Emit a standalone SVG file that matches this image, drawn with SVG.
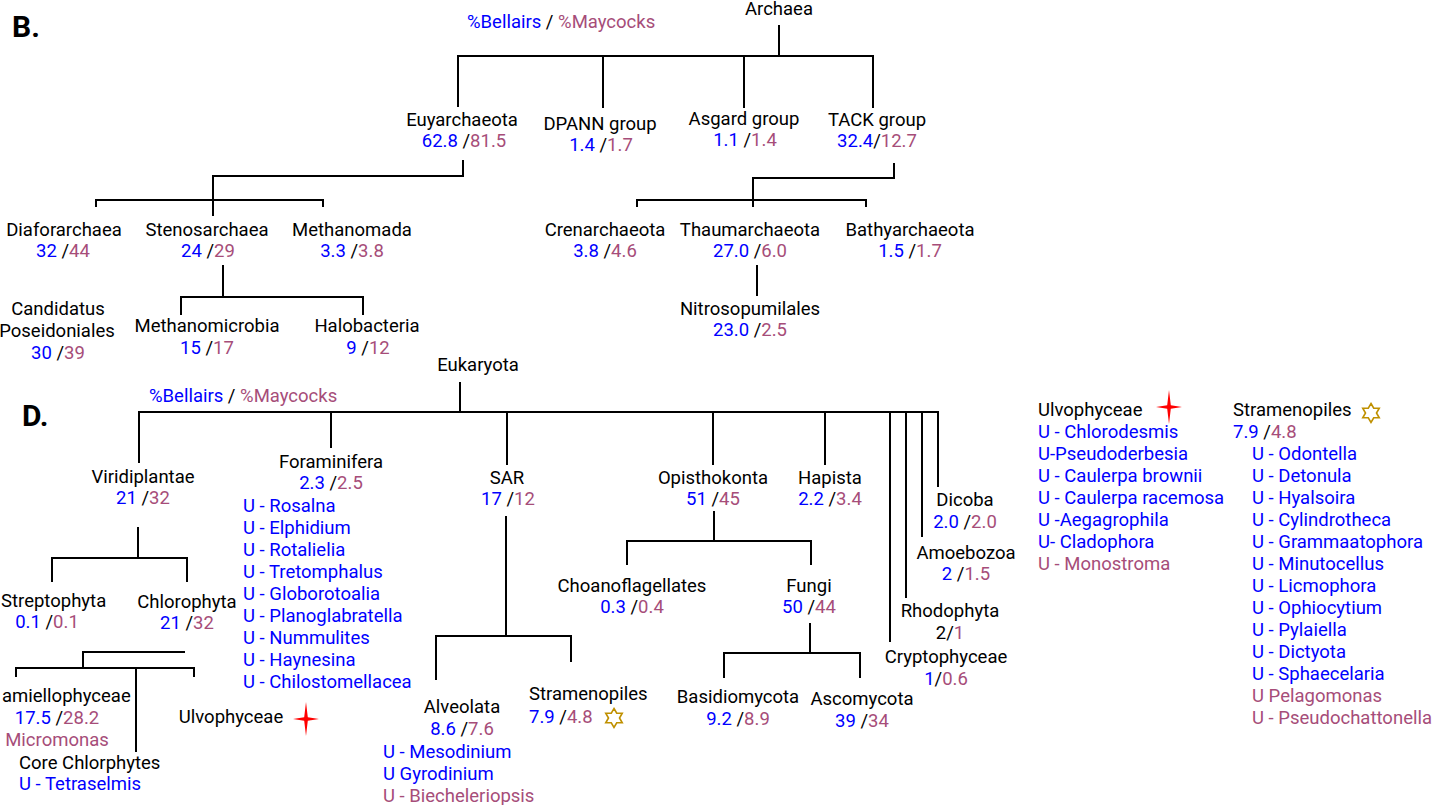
<svg xmlns="http://www.w3.org/2000/svg" xmlns:xlink="http://www.w3.org/1999/xlink" width="1434" height="805" viewBox="0 0 1434 805">
<style>
text{font-family:Roboto,"Liberation Sans",sans-serif;font-size:18.5px;fill:#000}
.c{text-anchor:middle}
.b{fill:#0000ff}
.m{fill:#a64d79}
.h{font-weight:bold;font-size:30px}
.ln{stroke:#000;stroke-width:2;fill:none}
.hex{fill:#fff;stroke:#bf9000;stroke-width:1.6;stroke-linejoin:miter}
.sp{fill:#ff0000}
</style>
<defs>
<path id="hexg" class="hex" d="M0,-9.5 L2.74,-4.75 L8.23,-4.75 L5.48,0 L8.23,4.75 L2.74,4.75 L0,9.5 L-2.74,4.75 L-8.23,4.75 L-5.48,0 L-8.23,-4.75 L-2.74,-4.75 Z"/>
<path id="spark" class="sp" d="M-13,0 L-1.8,-1.8 L0,-17 L1.8,-1.8 L13,0 L1.8,1.8 L0,17 L-1.8,1.8 Z"/>
</defs>
<rect width="1434" height="805" fill="#fff"/>

<g id="connectors">
<path class="ln" d="M779,25V56 M458,107V56H873V108 M603,56V108 M744,56V108"/>
<path class="ln" d="M463,160V176H213V216 M96,207V200H323V207"/>
<path class="ln" d="M223,265V297 M181,315V297H363V315"/>
<path class="ln" d="M894,163V178H753V207 M637,207V200H866V207"/>
<path class="ln" d="M757,265V296"/>
<path class="ln" d="M460,382V412 M139,463V412H938V487 M331,412V448 M507,412V465 M713,412V465 M825,412V465 M890,412V642 M906,412V598 M922,412V537"/>
<path class="ln" d="M138,527V558 M52,582V558H187V582"/>
<path class="ln" d="M185,652H83V668 M16,677V668H194V677 M136,668V752"/>
<path class="ln" d="M506,516V636 M436,680V636H571V662"/>
<path class="ln" d="M714,511V541 M627,565V541H811V565"/>
<path class="ln" d="M810,623V653 M724,678V653H860V678"/>
</g>

<g id="labels">
<text class="h" x="12" y="37">B.</text>
<text x="467" y="28"><tspan class="b">%Bellairs</tspan> / <tspan class="m">%Maycocks</tspan></text>
<text class="h" x="22" y="426">D.</text>
<text x="149" y="402"><tspan class="b">%Bellairs</tspan> / <tspan class="m">%Maycocks</tspan></text>
</g>

<g id="n-archaea"><text class="c" x="779" y="15">Archaea</text></g>
<g id="n-euyarchaeota"><text class="c" x="462" y="126">Euyarchaeota</text><text class="c" x="464" y="147"><tspan class="b">62.8</tspan> /<tspan class="m">81.5</tspan></text></g>
<g id="n-dpann"><text class="c" x="600" y="130">DPANN group</text><text class="c" x="601" y="151"><tspan class="b">1.4</tspan> /<tspan class="m">1.7</tspan></text></g>
<g id="n-asgard"><text class="c" x="744" y="125">Asgard group</text><text class="c" x="745" y="146"><tspan class="b">1.1</tspan> /<tspan class="m">1.4</tspan></text></g>
<g id="n-tack"><text class="c" x="877" y="126">TACK group</text><text class="c" x="877" y="147"><tspan class="b">32.4</tspan>/<tspan class="m">12.7</tspan></text></g>
<g id="n-diaforarchaea"><text class="c" x="64" y="236">Diaforarchaea</text><text class="c" x="63" y="257"><tspan class="b">32</tspan> /<tspan class="m">44</tspan></text></g>
<g id="n-stenosarchaea"><text class="c" x="207" y="236">Stenosarchaea</text><text class="c" x="208" y="257"><tspan class="b">24</tspan> /<tspan class="m">29</tspan></text></g>
<g id="n-methanomada"><text class="c" x="352" y="236">Methanomada</text><text class="c" x="352" y="257"><tspan class="b">3.3</tspan> /<tspan class="m">3.8</tspan></text></g>
<g id="n-poseidoniales"><text class="c" x="58" y="315">Candidatus</text><text class="c" x="57" y="337">Poseidoniales</text><text class="c" x="58" y="359"><tspan class="b">30</tspan> /<tspan class="m">39</tspan></text></g>
<g id="n-methanomicrobia"><text class="c" x="207" y="332">Methanomicrobia</text><text class="c" x="207" y="354"><tspan class="b">15</tspan> /<tspan class="m">17</tspan></text></g>
<g id="n-halobacteria"><text class="c" x="367" y="332">Halobacteria</text><text class="c" x="368" y="354"><tspan class="b">9</tspan> /<tspan class="m">12</tspan></text></g>
<g id="n-crenarchaeota"><text class="c" x="605" y="236">Crenarchaeota</text><text class="c" x="605" y="257"><tspan class="b">3.8</tspan> /<tspan class="m">4.6</tspan></text></g>
<g id="n-thaumarchaeota"><text class="c" x="750" y="236">Thaumarchaeota</text><text class="c" x="750" y="257"><tspan class="b">27.0</tspan> /<tspan class="m">6.0</tspan></text></g>
<g id="n-bathyarchaeota"><text class="c" x="910" y="236">Bathyarchaeota</text><text class="c" x="910" y="257"><tspan class="b">1.5</tspan> /<tspan class="m">1.7</tspan></text></g>
<g id="n-nitrosopumilales"><text class="c" x="750" y="315">Nitrosopumilales</text><text class="c" x="750" y="336"><tspan class="b">23.0</tspan> /<tspan class="m">2.5</tspan></text></g>

<g id="n-eukaryota"><text class="c" x="478" y="371">Eukaryota</text></g>
<g id="n-viridiplantae"><text class="c" x="143" y="483">Viridiplantae</text><text class="c" x="143" y="504"><tspan class="b">21</tspan> /<tspan class="m">32</tspan></text></g>
<g id="n-foraminifera"><text class="c" x="331" y="468">Foraminifera</text><text class="c" x="331" y="489"><tspan class="b">2.3</tspan> /<tspan class="m">2.5</tspan></text>
<text class="b" x="243" y="512">U - Rosalna</text>
<text class="b" x="243" y="534">U - Elphidium</text>
<text class="b" x="243" y="556">U - Rotalielia</text>
<text class="b" x="243" y="578">U - Tretomphalus</text>
<text class="b" x="243" y="600">U - Globorotoalia</text>
<text class="b" x="243" y="622">U - Planoglabratella</text>
<text class="b" x="243" y="644">U - Nummulites</text>
<text class="b" x="243" y="666">U - Haynesina</text>
<text class="b" x="243" y="688">U - Chilostomellacea</text>
</g>
<g id="n-sar"><text class="c" x="507" y="484">SAR</text><text class="c" x="508" y="505"><tspan class="b">17</tspan> /<tspan class="m">12</tspan></text></g>
<g id="n-opisthokonta"><text class="c" x="713" y="484">Opisthokonta</text><text class="c" x="713" y="505"><tspan class="b">51</tspan> /<tspan class="m">45</tspan></text></g>
<g id="n-hapista"><text class="c" x="830" y="484">Hapista</text><text class="c" x="830" y="505"><tspan class="b">2.2</tspan> /<tspan class="m">3.4</tspan></text></g>
<g id="n-dicoba"><text class="c" x="965" y="506">Dicoba</text><text class="c" x="965" y="528"><tspan class="b">2.0</tspan> /<tspan class="m">2.0</tspan></text></g>
<g id="n-amoebozoa"><text class="c" x="966" y="559">Amoebozoa</text><text class="c" x="966" y="580"><tspan class="b">2</tspan> /<tspan class="m">1.5</tspan></text></g>
<g id="n-rhodophyta"><text class="c" x="950" y="617">Rhodophyta</text><text class="c" x="950" y="639">2/<tspan class="m">1</tspan></text></g>
<g id="n-cryptophyceae"><text class="c" x="946" y="663">Cryptophyceae</text><text class="c" x="946" y="685"><tspan class="b">1</tspan>/<tspan class="m">0.6</tspan></text></g>
<g id="n-streptophyta"><text x="1" y="607">Streptophyta</text><text class="c" x="47" y="628"><tspan class="b">0.1</tspan> /<tspan class="m">0.1</tspan></text></g>
<g id="n-chlorophyta"><text class="c" x="187" y="608">Chlorophyta</text><text class="c" x="187" y="629"><tspan class="b">21</tspan> /<tspan class="m">32</tspan></text></g>
<g id="n-mamiellophyceae"><text x="2" y="702">amiellophyceae</text><text class="c" x="57" y="724"><tspan class="b">17.5</tspan> /<tspan class="m">28.2</tspan></text><text class="c m" x="57" y="746">Micromonas</text></g>
<g id="n-core"><text x="19" y="769">Core Chlorphytes</text><text class="b" x="19" y="790">U - Tetraselmis</text></g>
<g id="n-ulvophyceae"><text class="c" x="231" y="723">Ulvophyceae</text><use xlink:href="#spark" x="306" y="719"/></g>
<g id="n-alveolata"><text class="c" x="462" y="713">Alveolata</text><text class="c" x="462" y="735"><tspan class="b">8.6</tspan> /<tspan class="m">7.6</tspan></text>
<text class="b" x="383" y="758">U - Mesodinium</text>
<text class="b" x="383" y="780">U Gyrodinium</text>
<text class="m" x="383" y="802">U - Biecheleriopsis</text>
</g>
<g id="n-stramenopiles"><text x="529" y="700">Stramenopiles</text><text x="529" y="723"><tspan class="b">7.9</tspan> /<tspan class="m">4.8</tspan></text><use xlink:href="#hexg" x="614" y="718"/></g>
<g id="n-choanoflagellates"><text class="c" x="632" y="592">Choanoflagellates</text><text class="c" x="632" y="613"><tspan class="b">0.3</tspan> /<tspan class="m">0.4</tspan></text></g>
<g id="n-fungi"><text class="c" x="809" y="592">Fungi</text><text class="c" x="809" y="613"><tspan class="b">50</tspan> /<tspan class="m">44</tspan></text></g>
<g id="n-basidiomycota"><text class="c" x="738" y="703">Basidiomycota</text><text class="c" x="738" y="725"><tspan class="b">9.2</tspan> /<tspan class="m">8.9</tspan></text></g>
<g id="n-ascomycota"><text class="c" x="862" y="705">Ascomycota</text><text class="c" x="862" y="727"><tspan class="b">39</tspan> /<tspan class="m">34</tspan></text></g>

<g id="legend-ulvophyceae">
<text x="1038" y="416">Ulvophyceae</text><use xlink:href="#spark" x="1169" y="407"/>
<text class="b" x="1038" y="438">U - Chlorodesmis</text>
<text class="b" x="1038" y="460">U-Pseudoderbesia</text>
<text class="b" x="1038" y="482">U - Caulerpa brownii</text>
<text class="b" x="1038" y="504">U - Caulerpa racemosa</text>
<text class="b" x="1038" y="526">U -Aegagrophila</text>
<text class="b" x="1038" y="548">U- Cladophora</text>
<text class="m" x="1038" y="570">U - Monostroma</text>
</g>
<g id="legend-stramenopiles">
<text x="1233" y="416">Stramenopiles</text><use xlink:href="#hexg" x="1371" y="413"/>
<text x="1233" y="438"><tspan class="b">7.9</tspan> /<tspan class="m">4.8</tspan></text>
<text class="b" x="1252" y="460">U - Odontella</text>
<text class="b" x="1252" y="482">U - Detonula</text>
<text class="b" x="1252" y="504">U - Hyalsoira</text>
<text class="b" x="1252" y="526">U - Cylindrotheca</text>
<text class="b" x="1252" y="548">U - Grammaatophora</text>
<text class="b" x="1252" y="570">U - Minutocellus</text>
<text class="b" x="1252" y="592">U - Licmophora</text>
<text class="b" x="1252" y="614">U - Ophiocytium</text>
<text class="b" x="1252" y="636">U - Pylaiella</text>
<text class="b" x="1252" y="658">U - Dictyota</text>
<text class="b" x="1252" y="680">U - Sphaecelaria</text>
<text class="m" x="1252" y="702">U Pelagomonas</text>
<text class="m" x="1252" y="724">U - Pseudochattonella</text>
</g>
</svg>
